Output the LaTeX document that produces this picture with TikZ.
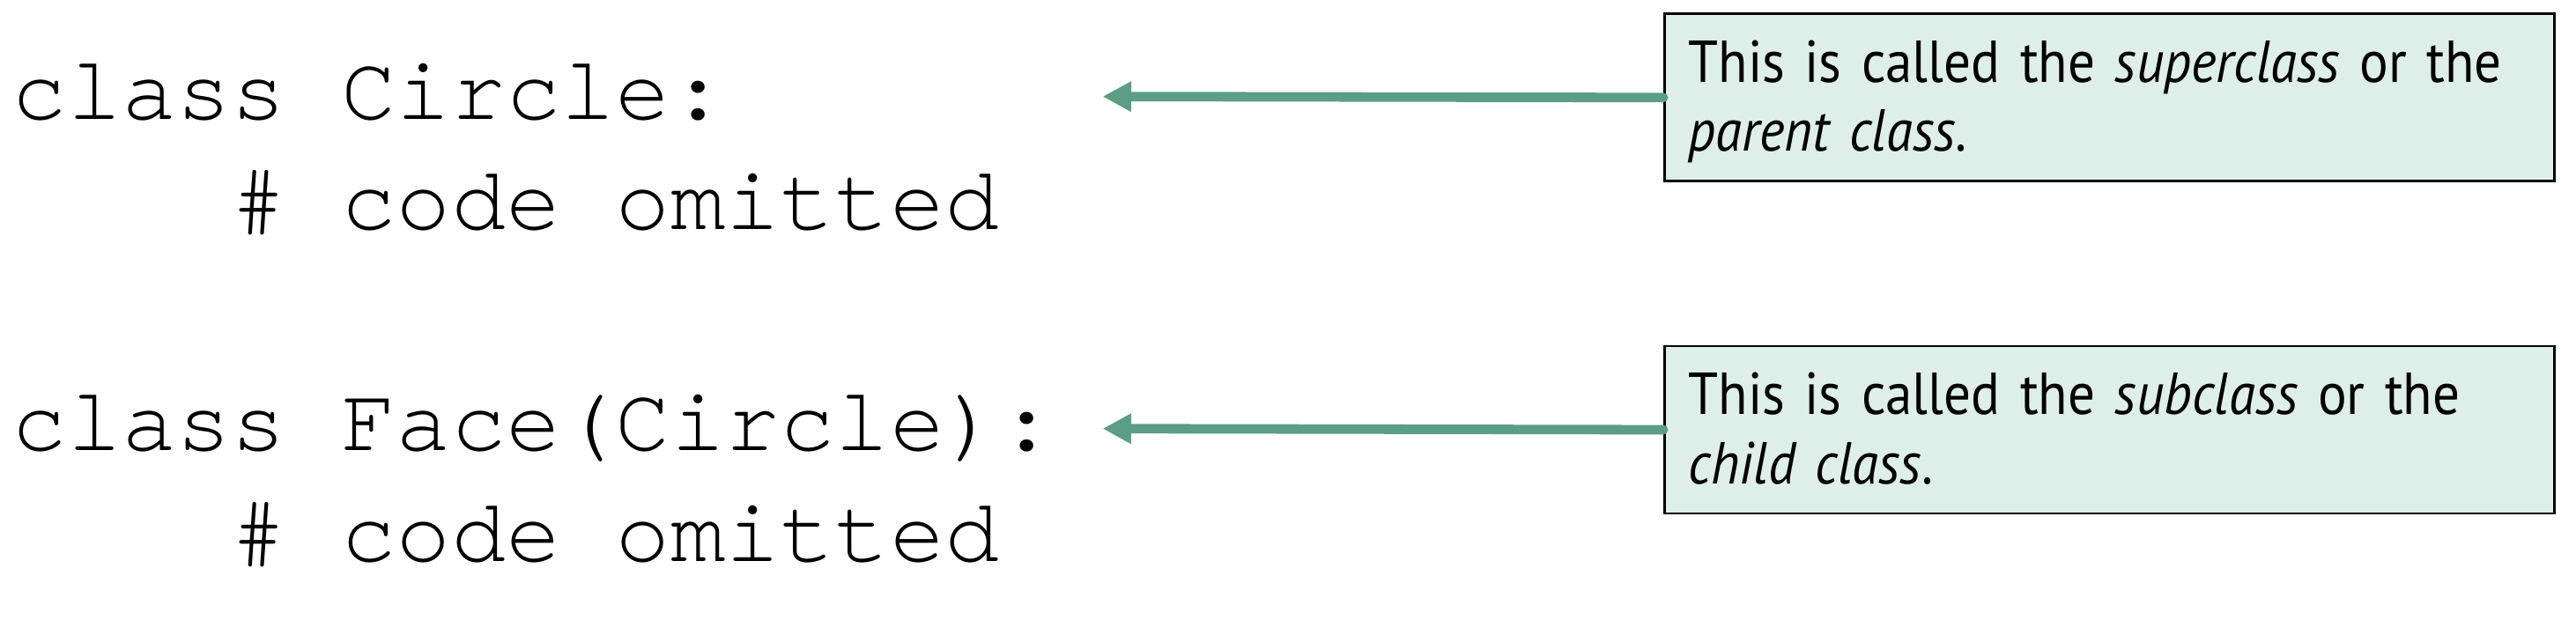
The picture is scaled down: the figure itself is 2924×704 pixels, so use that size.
\documentclass[tikz,border=0pt]{standalone}
\usepackage{fontspec}
\setmonofont{texgyrecursor}[Extension=.otf, UprightFont=*-regular, BoldFont=*-bold, ItalicFont=*-italic, BoldItalicFont=*-bolditalic]
\newfontfamily\boxfont{PT Sans}[FakeStretch=0.91]
\usetikzlibrary{arrows.meta}
\definecolor{arrowgreen}{HTML}{5B9E83}
\definecolor{boxfill}{HTML}{DDEFE8}
\begin{document}
\begin{tikzpicture}[x=0.25pt,y=-0.25pt,
  code/.style={anchor=base west, inner sep=0pt, font=\ttfamily\fontsize{25.95pt}{31.4pt}\selectfont},
  callout/.style={draw=black, line width=0.7pt, fill=boxfill, anchor=north west, inner xsep=6.8pt, inner ysep=0pt, text width=239pt, align=left, font=\boxfont\fontsize{16.8pt}{19.65pt}\selectfont},
  pointer/.style={draw=arrowgreen, line width=2.7pt, line cap=round, -{Triangle[length=8.1pt,width=8.1pt]}}]
\useasboundingbox (0,0) rectangle (2924,704);
\node[code] (c1) at (13,135.6) {class Circle:};
\node[code] (c2) at (13,261) {\phantom{cccc}\# code omitted};
\node[code] (c3) at (13,512) {class Face(Circle):};
\node[code] (c4) at (13,637.6) {\phantom{cccc}\# code omitted};
\node[callout] (b1) at (1888,14.4) {\rule{0pt}{19.4pt}This is called the \textit{superclass} or the\\\textit{parent class}.\rule[-8.45pt]{0pt}{8.45pt}};
\node[callout] (b2) at (1888,391.6) {\rule{0pt}{19.4pt}This is called the \textit{subclass} or the\\\textit{child class}.\rule[-8.45pt]{0pt}{8.45pt}};
\coordinate (tip1) at (1251.6,109.6);
\coordinate (tip2) at (1251.6,486.7);
\draw[pointer] (b1.west) -- (tip1);
\draw[pointer] (b2.west) -- (tip2);
\end{tikzpicture}
\end{document}
